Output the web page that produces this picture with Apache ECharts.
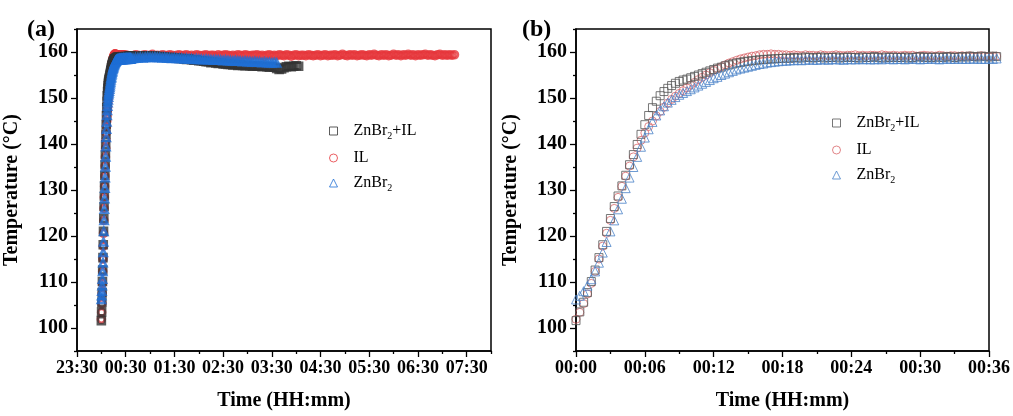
<!DOCTYPE html>
<html>
<head>
<meta charset="utf-8">
<script src="https://cdn.jsdelivr.net/npm/echarts@6/dist/echarts.min.js"></script>
<style>html,body{margin:0;padding:0;background:#fff}#c{width:1013px;height:416px}</style>
</head>
<body>
<div id="c"></div>
<script>
// ---------- DATA ----------
// sampling: panel (b) every 20 s from 00:00 (elapsed minutes)
const stepB = 1 / 3;
// long-run samples for panel (a): every 3 min starting at 39 min elapsed
const longStart = 39, longStep = 3;
// panel (a) clock axis starts at 23:30; heating began at 00:00 (30 min later)
const clockOffsetA = 30;

const names = ['ZnBr2+IL', 'IL', 'ZnBr2'];

// ZnBr2+IL, first 36.7 min (20 s steps)
const blackB = [101.6,103.5,105.6,107.7,110.1,112.6,115.3,118.1,121.0,123.8,
126.4,128.7,130.9,133.2,135.5,137.7,139.9,142.1,144.2,146.2,
147.9,149.3,150.5,151.4,152.1,152.7,153.2,153.6,153.9,154.1,
154.4,154.7,155.0,155.3,155.6,155.9,156.2,156.5,156.7,157.0,
157.2,157.4,157.6,157.7,157.9,158.0,158.1,158.2,158.3,158.4,
158.4,158.5,158.5,158.6,158.6,
158.7,158.6,158.8,158.7,158.7,158.9,158.8,158.7,158.8,158.9,
158.7,158.8,158.8,158.9,158.7,158.8,158.9,158.8,158.8,158.7,
158.9,158.8,158.8,159.0,158.8,158.7,158.9,158.8,158.9,158.8,
158.8,158.9,158.7,158.8,158.9,159.0,158.8,158.9,158.8,158.9,
158.9,158.8,159.0,158.9,158.8,158.9,159.0,158.9,159.1,159.0,
158.9,159.1,159.0,158.9,159.1,159.0];

// IL, first 36.7 min
const redB = [101.9,103.4,105.3,107.4,109.7,112.3,115.0,117.8,120.6,123.4,
126.0,128.4,130.8,133.0,135.2,137.2,139.1,140.8,142.4,143.8,
145.0,146.1,147.1,148.0,148.9,149.7,150.4,151.0,151.6,152.2,
152.8,153.4,154.0,154.5,155.0,155.5,156.0,156.4,156.8,157.2,
157.6,157.9,158.2,158.5,158.7,158.9,159.1,159.2,159.4,159.5,
159.5,159.6,159.5,159.5,159.4,
159.4,159.3,159.4,159.3,159.2,159.4,159.3,159.3,159.2,159.4,
159.3,159.2,159.3,159.4,159.3,159.2,159.3,159.3,159.4,159.2,
159.3,159.2,159.3,159.3,159.2,159.4,159.3,159.2,159.3,159.2,
159.2,159.3,159.2,159.3,159.1,159.2,159.3,159.2,159.2,159.1,
159.3,159.2,159.1,159.2,159.2,159.1,159.2,159.1,159.2,159.0,
159.1,159.2,159.1,159.0,159.1,159.1];

// ZnBr2, first 36.7 min
const blueB = [106.2,107.0,108.0,109.2,110.6,112.3,114.2,116.4,118.7,121.0,
123.4,125.8,128.1,130.4,132.7,135.0,137.2,139.4,141.4,143.2,
144.8,146.2,147.3,148.2,149.0,149.6,150.2,150.7,151.1,151.5,
151.9,152.3,152.7,153.1,153.5,153.9,154.3,154.6,155.0,155.3,
155.6,155.9,156.2,156.4,156.6,156.8,157.0,157.2,157.4,157.5,
157.7,157.8,157.9,158.0,158.1,
158.1,158.2,158.2,158.3,158.2,158.3,158.4,158.3,158.3,158.4,
158.4,158.3,158.5,158.4,158.4,158.3,158.5,158.4,158.4,158.5,
158.4,158.5,158.4,158.4,158.5,158.4,158.6,158.5,158.4,158.5,
158.5,158.4,158.5,158.6,158.5,158.4,158.5,158.5,158.6,158.5,
158.4,158.5,158.6,158.5,158.5,158.6,158.5,158.5,158.6,158.5,
158.6,158.5,158.5,158.6,158.5,158.6];

// long run (panel a), every 3 min from 39 min
const redLong = [159.2,159.4,159.3,159.1,159.3,159.4,159.2,159.3,159.5,159.2,
159.3,159.1,159.4,159.3,159.2,159.4,159.3,159.1,159.3,159.4,
159.2,159.3,159.4,159.2,159.3,159.1,159.4,159.3,159.2,159.3,
159.4,159.2,159.3,159.3,159.1,159.4,159.2,159.3,159.4,159.3,
159.2,159.3,159.1,159.4,159.3,159.2,159.4,159.3,159.2,159.3,
159.3,159.4,159.2,159.3,159.1,159.3,159.4,159.2,159.3,159.2,
159.4,159.3,159.2,159.4,159.3,159.1,159.3,159.4,159.2,159.3,
159.3,159.2,159.4,159.3,159.2,159.3,159.4,159.2,159.3,159.4,
159.2,159.3,159.3,159.4,159.2,159.3,159.5,159.3,159.2,159.4,
159.3,159.4,159.2,159.3,159.4,159.3,159.2,159.4,159.3,159.5,
159.3,159.2,159.4,159.3,159.4,159.2,159.3,159.5,159.3,159.4,
159.2,159.4,159.3,159.5,159.3,159.4,159.2,159.4,159.3,159.4,
159.5,159.3,159.4,159.3,159.2,159.4,159.5,159.3,159.4,159.3,
159.4,159.3,159.4];

const blackLong = [158.9,159.0,159.1,159.0,159.1,159.2,159.1,159.0,159.1,159.1,
159.0,159.0,158.9,158.9,158.8,158.8,158.8,158.7,158.7,158.6,
158.6,158.5,158.4,158.5,158.3,158.2,158.3,158.1,158.1,158.0,
157.9,157.9,157.7,157.8,157.6,157.5,157.6,157.4,157.4,157.3,
157.3,157.2,157.3,157.1,157.2,157.1,157.0,157.1,157.0,156.9,
157.0,156.9,156.9,156.8,156.9,156.8,156.7,156.8,156.7,156.4,
156.2,156.3,156.6,156.8,156.9,156.8,156.9,157.0,156.9];

const blueLong = [158.6,158.7,158.7,158.8,158.7,158.8,158.9,158.8,158.8,158.9,
158.8,158.8,158.7,158.8,158.7,158.7,158.6,158.7,158.6,158.6,
158.6,158.5,158.6,158.5,158.5,158.4,158.5,158.4,158.4,158.3,
158.4,158.3,158.3,158.2,158.3,158.2,158.2,158.1,158.2,158.1,
158.1,158.0,158.1,158.0,158.0,157.9,158.0,157.9,157.9,157.8,
157.9,157.8,157.8,157.7,157.8,157.7,157.7,157.6,157.7,157.6];

// ticks & labels
const xTicksA = [0,60,120,180,240,300,360,420,480];
const xLabelsA = ['23:30','00:30','01:30','02:30','03:30','04:30','05:30','06:30','07:30'];
const xMinorA = [30,90,150,210,270,330,390,450,510];
const xTicksB = [0,6,12,18,24,30,36];
const xLabelsB = ['00:00','00:06','00:12','00:18','00:24','00:30','00:36'];
const xMinorB = [3,9,15,21,27,33];
const yTicks = [100,110,120,130,140,150,160];
const yMinor = [95,105,115,125,135,145,155,165];

// ---------- CHART ----------
const FONT = 'Liberation Serif, Times New Roman, serif';
const colorsA = {'ZnBr2+IL': '#333333', 'IL': '#e6363b', 'ZnBr2': '#1f6fd6'};
const colorsB = {'ZnBr2+IL': '#555555', 'IL': '#d9666a', 'ZnBr2': '#4a82c8'};
const symbols = {'ZnBr2+IL': 'rect', 'IL': 'circle', 'ZnBr2': 'triangle'};
const earlyOf = {'ZnBr2+IL': blackB, 'IL': redB, 'ZnBr2': blueB};
const longOf = {'ZnBr2+IL': blackLong, 'IL': redLong, 'ZnBr2': blueLong};

function earlyPts(arr, offset) { return arr.map((v, i) => [offset + i * stepB, v]); }
function longPts(arr, offset) { return arr.map((v, k) => [offset + longStart + k * longStep, v]); }

const drawOrder = ['IL', 'ZnBr2+IL', 'ZnBr2'];
const series = [];
drawOrder.forEach(n => {
  series.push({
    name: n, type: 'scatter', xAxisIndex: 0, yAxisIndex: 0,
    symbol: symbols[n], symbolSize: 7,
    itemStyle: {color: 'rgba(0,0,0,0)', borderColor: colorsA[n], borderWidth: 2.6},
    data: earlyPts(earlyOf[n], clockOffsetA).concat(longPts(longOf[n], clockOffsetA)),
    emphasis: {disabled: true}
  });
});
drawOrder.forEach(n => {
  series.push({
    name: n, type: 'scatter', xAxisIndex: 2, yAxisIndex: 2, clip: false,
    symbol: symbols[n], symbolSize: n === 'ZnBr2' ? 9 : 8,
    itemStyle: {color: 'rgba(0,0,0,0)', borderColor: colorsB[n], borderWidth: 1},
    data: earlyPts(earlyOf[n], 0),
    emphasis: {disabled: true}
  });
});

const axLine = {show: true, onZero: false, lineStyle: {color: '#000', width: 1.5}};
const tickStyle = {color: '#000', width: 1.3};

function xMain(grid, min, max, ticks, labels) {
  return {
    type: 'value', gridIndex: grid, min: min, max: max, position: 'bottom',
    axisLine: axLine, splitLine: {show: false},
    axisTick: {show: true, customValues: ticks, length: 6, lineStyle: tickStyle},
    axisLabel: {customValues: ticks, margin: 8, color: '#000', fontFamily: FONT, fontWeight: 'bold', fontSize: 18,
      formatter: v => { const i = ticks.indexOf(v); return i >= 0 ? labels[i] : ''; }},
    name: 'Time (HH:mm)', nameLocation: 'middle', nameGap: 40,
    nameTextStyle: {color: '#000', fontFamily: FONT, fontWeight: 'bold', fontSize: 20}
  };
}
function xMinor(grid, min, max, ticks) {
  return {
    type: 'value', gridIndex: grid, min: min, max: max, position: 'bottom',
    axisLine: {show: false, onZero: false}, splitLine: {show: false}, axisLabel: {show: false},
    axisTick: {show: true, customValues: ticks, length: 3, lineStyle: tickStyle}
  };
}
function yMain(grid) {
  return {
    type: 'value', gridIndex: grid, min: 95, max: 165, position: 'left',
    axisLine: axLine, splitLine: {show: false},
    axisTick: {show: true, customValues: yTicks, length: 6, lineStyle: tickStyle},
    axisLabel: {customValues: yTicks, margin: 9, color: '#000', fontFamily: FONT, fontWeight: 'bold', fontSize: 20},
    name: 'Temperature (°C)', nameLocation: 'middle', nameGap: 55,
    nameTextStyle: {color: '#000', fontFamily: FONT, fontWeight: 'bold', fontSize: 20}
  };
}
function yMinorAx(grid) {
  return {
    type: 'value', gridIndex: grid, min: 95, max: 165, position: 'left',
    axisLine: {show: false, onZero: false}, splitLine: {show: false}, axisLabel: {show: false},
    axisTick: {show: true, customValues: yMinor, length: 3, lineStyle: tickStyle}
  };
}

function legendFmt(name) {
  if (name === 'IL') return '{g|}{n|IL}';
  if (name === 'ZnBr2') return '{g|}{n|ZnBr}{s|2}';
  return '{g|}{n|ZnBr}{s|2}{n|+IL}';
}
const legendText = {
  color: '#000', fontFamily: FONT, fontSize: 16,
  rich: {
    g: {width: 11, lineHeight: 20},
    n: {fontFamily: FONT, fontSize: 16, lineHeight: 20, color: '#000'},
    s: {fontFamily: FONT, fontSize: 10, lineHeight: 12, verticalAlign: 'bottom', color: '#000'}
  }
};
function legend(left, top, cols) {
  return {
    orient: 'vertical', left: left, top: top,
    data: names.map(n => ({name: n, itemStyle: {color: 'rgba(0,0,0,0)', borderColor: cols[n], borderWidth: 1}})),
    itemWidth: 8, itemHeight: 8, itemGap: 9, selectedMode: false,
    formatter: legendFmt, textStyle: legendText
  };
}

const option = {
  animation: false,
  backgroundColor: '#fff',
  title: [
    {text: '(a)', left: 22, top: 13, textStyle: {fontFamily: FONT, fontWeight: 'bold', fontSize: 24, color: '#000'}},
    {text: '(b)', left: 517, top: 13, textStyle: {fontFamily: FONT, fontWeight: 'bold', fontSize: 24, color: '#000'}}
  ],
  grid: [
    {left: 77, width: 414, top: 29, bottom: 55, show: true, borderColor: '#000', borderWidth: 1.5, backgroundColor: 'transparent'},
    {left: 576, width: 414, top: 29, bottom: 55, show: true, borderColor: '#000', borderWidth: 1.5, backgroundColor: 'transparent'}
  ],
  xAxis: [
    xMain(0, 0, 510, xTicksA, xLabelsA),
    xMinor(0, 0, 510, xMinorA),
    xMain(1, 0, 36, xTicksB, xLabelsB),
    xMinor(1, 0, 36, xMinorB)
  ],
  yAxis: [yMain(0), yMinorAx(0), yMain(1), yMinorAx(1)],
  legend: [legend(324, 118, colorsA), legend(827, 110, colorsB)],
  series: series
};
const chart = echarts.init(document.getElementById('c'), null, {renderer: 'canvas'});
chart.setOption(option);
</script>
</body>
</html>
